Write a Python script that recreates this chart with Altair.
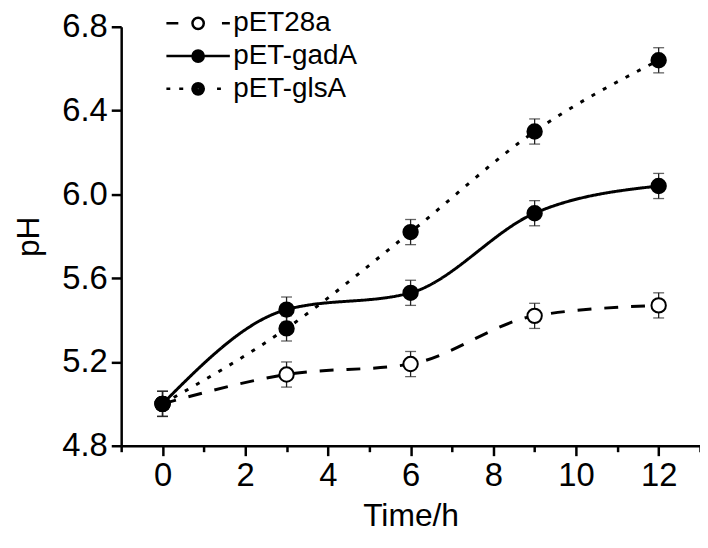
import altair as alt
import pandas as pd

FONT = "Liberation Sans"

time_h = [0, 3, 6, 9, 12]
series_names = ["pET28a", "pET-gadA", "pET-glsA"]
ph_pet28a = [5.00, 5.14, 5.19, 5.42, 5.47]
ph_gada = [5.00, 5.45, 5.53, 5.91, 6.04]
ph_glsa = [5.00, 5.36, 5.82, 6.30, 6.64]
err_pet28a = [0.06, 0.06, 0.06, 0.06, 0.06]
err_gada = [0.06, 0.06, 0.06, 0.06, 0.06]
err_glsa = [0.06, 0.06, 0.06, 0.06, 0.06]
x_ticks = [-1, 0, 1, 2, 3, 4, 5, 6, 7, 8, 9, 10, 11, 12, 13]
y_ticks = [4.8, 5.2, 5.6, 6.0, 6.4, 6.8]

rows = []
for name, ys, es in zip(series_names, [ph_pet28a, ph_gada, ph_glsa],
                        [err_pet28a, err_gada, err_glsa]):
    for t, y, e in zip(time_h, ys, es):
        rows.append({"series": name, "time": t, "ph": y, "lo": y - e, "hi": y + e})
df = pd.DataFrame(rows)


# legend symbol glyphs (unit square coordinates): line pieces + circle
def ring(rad):
    k = round(0.5523 * rad, 4)
    return (f"M{rad},0 C{rad},{k} {k},{rad} 0,{rad} C-{k},{rad} -{rad},{k} -{rad},0 "
            f"C-{rad},-{k} -{k},-{rad} 0,-{rad} C{k},-{rad} {rad},-{k} {rad},0 Z ")


open_dot = ring(0.38)
solid_dot = ring(0.38) + ring(0.27) + ring(0.16) + ring(0.06)
path_28a = "M-2.13,0 L-1.33,0 M1.6,0 L2.13,0 " + open_dot
path_gada = "M-2.13,0 L2.13,0 " + solid_dot
path_glsa = "M-2.13,0 L-1.87,0 M-1.27,0 L-1.0,0 M1.27,0 L1.53,0 " + solid_dot

# the style scales list the series in reverse so that their (hidden) legends
# are not merged with the visible one
rev_names = series_names[::-1]
fill_scale = alt.Scale(domain=rev_names, range=["black", "black", "white"])
dash_scale = alt.Scale(domain=rev_names, range=[[4, 9], [1, 0], [14, 13]])
shape_scale = alt.Scale(domain=series_names, range=[path_28a, path_gada, path_glsa])

x_scale = alt.Scale(domain=[-1, 13], nice=False, zero=False)
y_scale = alt.Scale(domain=[4.8, 6.8], nice=False, zero=False)

x_axis = alt.Axis(
    values=x_ticks, title="Time/h", format="d",
    labelExpr="datum.value % 2 === 0 && datum.value >= 0 && datum.value <= 12 ? datum.label : ''",
    tickSize={"condition": {"test": "datum.value % 2 !== 0", "value": 6}, "value": 10},
    labelFontSize=33, titleFontSize=32, labelPadding=4, titlePadding=8,
    labelOverlap=False, labelFlush=False,
)
y_axis = alt.Axis(
    values=y_ticks, format=".1f", title="pH", tickSize=10,
    labelFontSize=33, titleFontSize=32, labelPadding=4, titlePadding=16,
    labelOverlap=False,
)

leg = alt.Legend(
    title=None, orient="bottom-right", offset=345, symbolSize=900,
    symbolStrokeWidth=2.5, symbolStrokeColor="black", labelFont=FONT,
    labelFontSize=28, labelColor="black", labelOffset=19, rowPadding=2,
    padding=0, symbolOpacity=1,
)

X = alt.X("time:Q", scale=x_scale, axis=x_axis, title="Time/h")


def Y(field):
    return alt.Y(field, scale=y_scale, axis=y_axis, title="pH")


base = alt.Chart(df)

lines = base.mark_line(interpolate="monotone", strokeWidth=3, color="black").encode(
    x=X,
    y=Y("ph:Q"),
    strokeDash=alt.StrokeDash("series:N", scale=dash_scale, legend=None),
)

err_rule = base.mark_rule(strokeWidth=1.3, color="#222").encode(
    x=X, y=Y("lo:Q"), y2="hi:Q",
)
cap_lo = base.mark_tick(orient="horizontal", size=11, thickness=1.3, color="#222").encode(
    x=X, y=Y("lo:Q"),
)
cap_hi = base.mark_tick(orient="horizontal", size=11, thickness=1.3, color="#222").encode(
    x=X, y=Y("hi:Q"),
)

points = base.mark_point(shape="circle", size=210, filled=True, stroke="black",
                         strokeWidth=2, opacity=1).encode(
    x=X, y=Y("ph:Q"),
    fill=alt.Fill("series:N", scale=fill_scale, legend=None),
)

# invisible layer whose only job is to carry the legend symbols
legend_layer = base.mark_point(
    size=900, filled=False, stroke="black", strokeWidth=2.5, opacity=0
).encode(
    x=X, y=Y("ph:Q"),
    shape=alt.Shape("series:N", scale=shape_scale, legend=leg),
)

chart = alt.layer(lines, err_rule, cap_lo, cap_hi, points, legend_layer).properties(
    width=583, height=422,
    padding={"left": 114, "top": 17, "right": 0, "bottom": 89},
    autosize=alt.AutoSizeParams(type="none"),
).configure_view(stroke=None).configure_axis(
    grid=False, domainColor="black", tickColor="black", domainWidth=2.5,
    tickWidth=2.5, labelFont=FONT, titleFont=FONT, labelColor="black",
    titleColor="black", titleFontWeight="normal",
)

chart.save("out.html", embed_options={"renderer": "svg", "actions": False})
